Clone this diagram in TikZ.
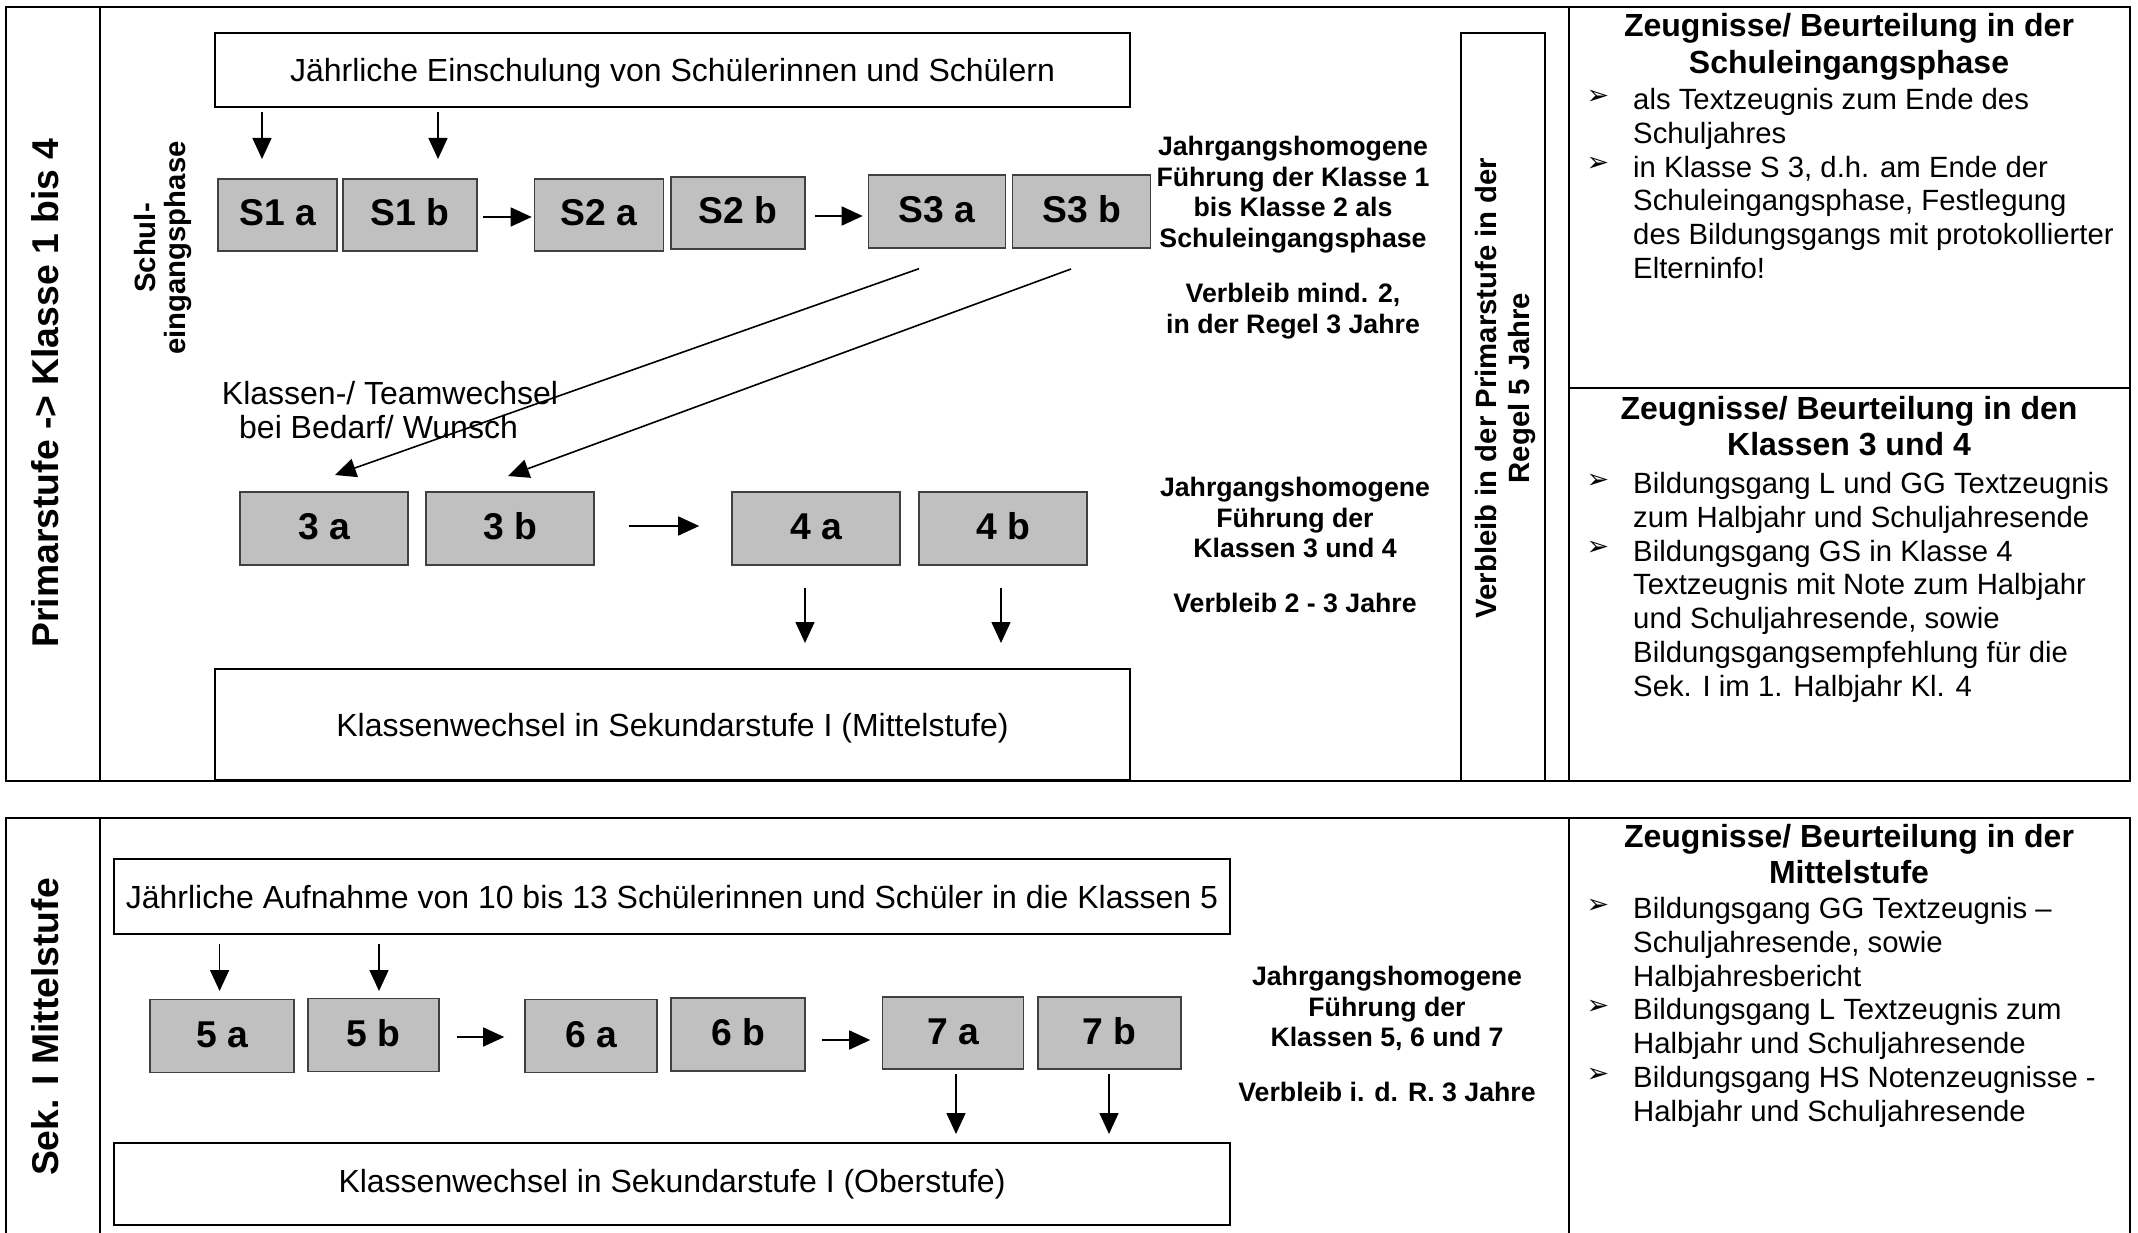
\documentclass[tikz,border=0pt]{standalone}
\usepackage{fontspec}
\setmainfont{Liberation Sans}
\newfontfamily\dejavu{DejaVu Sans}
\usetikzlibrary{arrows.meta,calc}
\definecolor{boxgray}{RGB}{192,192,192}
\newcommand\fsz[2]{\fontsize{#1pt}{#2pt}\selectfont}
\begin{document}
\begin{tikzpicture}[x=1pt,y=-1pt,
  frame/.style={line width=2.5pt},
  wbox/.style={draw, line width=2.5pt, inner sep=0pt, font=\fsz{32}{36}},
  gbox/.style={draw=black!75, fill=boxgray, line width=1.6pt, inner sep=0pt, text height=27pt, text depth=5pt, font=\bfseries\fsz{37.3}{40}},
  arr/.style={line width=1.6pt, -{Triangle[length=21pt,width=19pt]}},
  midtxt/.style={align=center, inner sep=0pt, font=\bfseries\fsz{26.7}{30.7}},
  head/.style={align=center, inner sep=0pt, anchor=north, font=\bfseries\fsz{32}{36.5}},
  body/.style={align=left, inner sep=0pt, anchor=north west, font=\fsz{29.3}{33.8}},
  bul/.style={inner sep=0pt, font=\dejavu\fsz{27}{28}},
  rot/.style={rotate=90, inner sep=0pt}
]
\useasboundingbox (0,0) rectangle (2138,1233);
\fill[white] (0,0) rectangle (2138,1233);

% ---------- top panel frame ----------
\draw[frame] (6,7) rectangle (2130,781);
\draw[frame] (100,7) -- (100,781);
\draw[frame] (1569,7) -- (1569,781);
\draw[frame] (1569,388) -- (2130,388);

% ---------- bottom panel frame ----------
\draw[frame] (6,1250) -- (6,818) -- (2130,818) -- (2130,1250);
\draw[frame] (100,818) -- (100,1250);
\draw[frame] (1569,818) -- (1569,1250);

% ---------- rotated labels ----------
\node[rot, font=\bfseries\fsz{37.3}{40}] (prim) at (45.5,393) {Primarstufe -> Klasse 1 bis 4};
\node[rot, font=\bfseries\fsz{37.3}{40}] (sek) at (45.5,1027) {Sek. I Mittelstufe};
\node[rot, align=center, font=\bfseries\fsz{29.3}{30}] (schul) at (163,248) {Schul-\\eingangsphase};

\node[draw, line width=2.5pt, inner sep=0pt, minimum width=84, minimum height=748] (verb) at (1503,407) {};
\node[rot, align=center, font=\bfseries\fsz{29.3}{33}] (verbt) at (1505,388) {Verbleib in der Primarstufe in der\\Regel 5 Jahre};

% ---------- top panel boxes ----------
\node[wbox, text height=23pt, text depth=0pt, minimum width=915, minimum height=74] (einsch) at (672.5,70) {Jährliche Einschulung von Schülerinnen und Schülern};
\node[wbox, text height=23pt, text depth=0pt, minimum width=915, minimum height=111] (mittel) at (672.5,724.5) {Klassenwechsel in Sekundarstufe I (Mittelstufe)};

\node[gbox, minimum width=119, minimum height=72] (S1a) at (277.5,215) {S1 a};
\node[gbox, minimum width=134, minimum height=72] (S1b) at (410,215) {S1 b};
\node[gbox, minimum width=129, minimum height=72] (S2a) at (599,215) {S2 a};
\node[gbox, minimum width=134, minimum height=72] (S2b) at (738,213) {S2 b};
\node[gbox, minimum width=137, minimum height=73] (S3a) at (937,211.5) {S3 a};
\node[gbox, minimum width=138, minimum height=73] (S3b) at (1081.5,211.5) {S3 b};

\node[gbox, minimum width=168, minimum height=73] (K3a) at (324,528.5) {3 a};
\node[gbox, minimum width=168, minimum height=73] (K3b) at (510,528.5) {3 b};
\node[gbox, minimum width=168, minimum height=73] (K4a) at (816,528.5) {4 a};
\node[gbox, minimum width=168, minimum height=73] (K4b) at (1003,528.5) {4 b};

\node[align=center, inner sep=0pt, anchor=north, font=\fsz{32}{34}] (wechsel) at (390,381) {Klassen-/ Teamwechsel\\bei Bedarf/ Wunsch\hspace*{23pt}};

% arrows top panel
\coordinate (t1) at (262,159);
\coordinate (t2) at (438,159);
\draw[arr] ($(einsch.south -| t1)+(0,4)$) -- (t1);
\draw[arr] ($(einsch.south -| t2)+(0,4)$) -- (t2);
\draw[arr] ($(S1b.east)+(5,2)$) -- ($(S2a.west)+(-2,2)$);
\draw[arr] ($(S2b.east)+(9,3)$) -- ($(S3a.west |- S2b.east)+(-5,3)$);
\draw[arr] ($(K3b.east)+(34,-2.5)$) -- ($(K4a.west)+(-32,-2.5)$);
\coordinate (d1s) at (919,268.7);
\coordinate (d1e) at (335,475);
\coordinate (d2s) at (1071,269);
\coordinate (d2e) at (508,476);
\draw[arr] (d1s) -- (d1e);
\draw[arr] (d2s) -- (d2e);
\coordinate (u1) at (805,643);
\coordinate (u2) at (1001,643);
\draw[arr] ($(K4a.south -| u1)+(0,22)$) -- (u1);
\draw[arr] ($(K4b.south -| u2)+(0,22)$) -- (u2);

% middle bold texts
\node[midtxt, anchor=north] (m1) at (1293,136) {Jahrgangshomogene\\Führung der Klasse 1\\bis Klasse 2 als\\Schuleingangsphase\\[24pt]Verbleib mind. 2,\\in der Regel 3 Jahre};
\node[midtxt, anchor=north] (m2) at (1295,477) {Jahrgangshomogene\\Führung der\\Klassen 3 und 4\\[24pt]Verbleib 2 - 3 Jahre};

% right column top
\node[head] (h1) at (1849,13.5) {Zeugnisse/ Beurteilung in der\\Schuleingangsphase};
\node[body] (b1) at (1633,88) {als Textzeugnis zum Ende des\\Schuljahres\\in Klasse S 3, d.h. am Ende der\\Schuleingangsphase, Festlegung\\des Bildungsgangs mit protokollierter\\Elterninfo!};
\node[bul] (bu1) at (1598,97) {➢};
\node[bul] (bu2) at (1598,164.6) {➢};

\node[head] (h2) at (1849,396) {Zeugnisse/ Beurteilung in den\\Klassen 3 und 4};
\node[body] (b2) at (1633,472) {Bildungsgang L und GG Textzeugnis\\zum Halbjahr und Schuljahresende\\Bildungsgang GS in Klasse 4\\Textzeugnis mit Note zum Halbjahr\\und Schuljahresende, sowie\\Bildungsgangsempfehlung für die\\Sek. I im 1. Halbjahr Kl. 4};
\node[bul] (bu3) at (1598,481) {➢};
\node[bul] (bu4) at (1598,548.6) {➢};

% ---------- bottom panel ----------
\node[wbox, text height=23pt, text depth=0pt, minimum width=1116, minimum height=75] (aufn) at (672,896.5) {Jährliche Aufnahme von 10 bis 13 Schülerinnen und Schüler in die Klassen 5};
\node[wbox, minimum width=1116, minimum height=82] (ober) at (672,1184) {Klassenwechsel in Sekundarstufe I (Oberstufe)};

\node[gbox, minimum width=144, minimum height=73] (K5a) at (222,1036) {5 a};
\node[gbox, minimum width=131, minimum height=73] (K5b) at (373.5,1035) {5 b};
\node[gbox, minimum width=132, minimum height=73] (K6a) at (591,1036) {6 a};
\node[gbox, minimum width=134, minimum height=73] (K6b) at (738,1034.5) {6 b};
\node[gbox, minimum width=141, minimum height=72] (K7a) at (953,1033) {7 a};
\node[gbox, minimum width=143, minimum height=72] (K7b) at (1109.5,1033) {7 b};

\coordinate (v1) at (219.6,991);
\coordinate (v2) at (379,991);
\draw[arr] ($(aufn.south -| v1)+(0,9)$) -- (v1);
\draw[arr] ($(aufn.south -| v2)+(0,9)$) -- (v2);
\draw[arr] ($(K5b.east |- 0,1037)+(17,0)$) -- ($(K6a.west |- 0,1037)+(-20,0)$);
\draw[arr] ($(K6b.east |- 0,1040)+(16,0)$) -- ($(K7a.west |- 0,1040)+(-11.5,0)$);
\coordinate (w1) at (956,1134);
\coordinate (w2) at (1109,1134);
\draw[arr] ($(K7a.south -| w1)+(0,4)$) -- (w1);
\draw[arr] ($(K7b.south -| w2)+(0,4)$) -- (w2);

\node[midtxt, anchor=north] (m3) at (1387,966) {Jahrgangshomogene\\Führung der\\Klassen 5, 6 und 7\\[24pt]Verbleib i. d. R. 3 Jahre};

\node[head] (h3) at (1849,824) {Zeugnisse/ Beurteilung in der\\Mittelstufe};
\node[body] (b3) at (1633,897) {Bildungsgang GG Textzeugnis –\\Schuljahresende, sowie\\Halbjahresbericht\\Bildungsgang L Textzeugnis zum\\Halbjahr und Schuljahresende\\Bildungsgang HS Notenzeugnisse -\\Halbjahr und Schuljahresende};
\node[bul] (bu5) at (1598,906) {➢};
\node[bul] (bu6) at (1598,1007.4) {➢};
\node[bul] (bu7) at (1598,1075) {➢};
\end{tikzpicture}
\end{document}
